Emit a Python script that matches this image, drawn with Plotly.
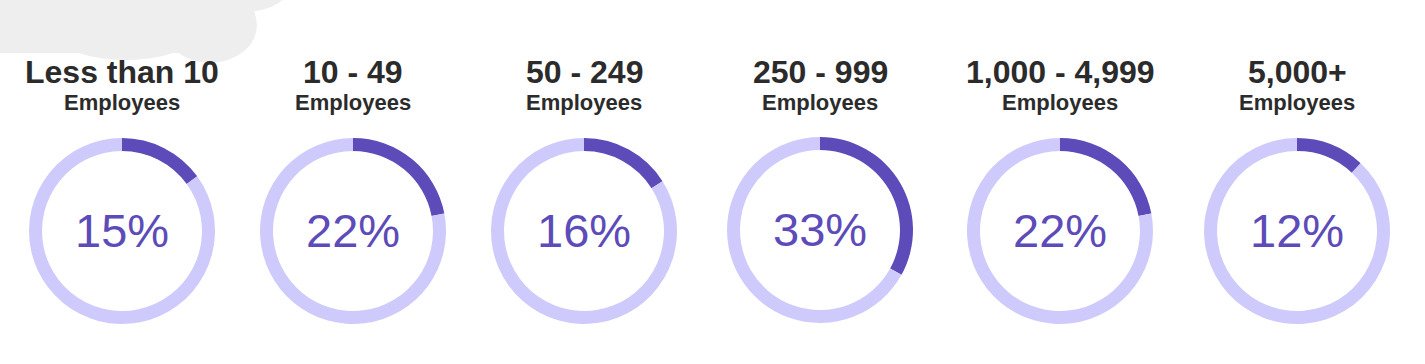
import plotly.graph_objects as go

# ---- data ----
categories = ["Less than 10", "10 - 49", "50 - 249", "250 - 999", "1,000 - 4,999", "5,000+"]
subtitle = "Employees"
percent_values = [15, 22, 16, 33, 22, 12]

# ---- layout constants ----
W, H = 1425, 364
centers_x = [122, 353, 584, 820, 1060, 1297]
centers_y = [231, 231, 231, 230, 231, 231]
R = 93
DARK = "#5c4bb8"
LIGHT = "#cecbfc"
TITLE_C = "#2b2b2b"
FONT = "Arial, Liberation Sans, sans-serif"

def px(x):
    return x / W

def py(y):
    return 1 - y / H

fig = go.Figure()
annotations = []
for cat, val, cx, cy in zip(categories, percent_values, centers_x, centers_y):
    fig.add_trace(go.Pie(
        values=[val, 100 - val],
        labels=[cat + " share", cat + " rest"],
        sort=False,
        direction="clockwise",
        rotation=0,
        hole=0.86,
        textinfo="none",
        hoverinfo="label+percent",
        marker=dict(colors=[DARK, LIGHT], line=dict(width=0)),
        domain=dict(x=[px(cx - R), px(cx + R)], y=[py(cy + R), py(cy - R)]),
        showlegend=False,
    ))
    annotations.append(dict(
        text=f"{val}%", x=px(cx), y=py(cy - 1), xref="paper", yref="paper",
        xanchor="center", yanchor="middle", showarrow=False,
        font=dict(family=FONT, size=47, color=DARK),
    ))
    annotations.append(dict(
        text=f"<b>{cat}</b>", x=px(cx), y=py(72), xref="paper", yref="paper",
        xanchor="center", yanchor="middle", showarrow=False,
        font=dict(family=FONT, size=32, color=TITLE_C),
    ))
    annotations.append(dict(
        text=f"<b>{subtitle}</b>", x=px(cx), y=py(102), xref="paper", yref="paper",
        xanchor="center", yanchor="middle", showarrow=False,
        font=dict(family=FONT, size=22, color=TITLE_C),
    ))

GRAY = "#eeeeee"
def ell(x0, y0, x1, y1):
    return dict(type="circle", xref="paper", yref="paper",
                x0=px(x0), x1=px(x1), y0=py(y1), y1=py(y0),
                fillcolor=GRAY, line=dict(width=0), layer="below")

shapes = [
    dict(type="rect", xref="paper", yref="paper", x0=0, x1=px(200), y0=py(53), y1=1,
         fillcolor=GRAY, line=dict(width=0), layer="below"),
    ell(163, -13, 257, 63),
    ell(197, -52, 293, 12),
    ell(62, 15, 190, 60),
    ell(150, -20, 240, 40),
]

fig.update_layout(
    width=W, height=H,
    margin=dict(l=0, r=0, t=0, b=0),
    paper_bgcolor="white", plot_bgcolor="white",
    annotations=annotations, shapes=shapes,
)
fig.write_html(
    "out.html",
    config={"displayModeBar": False},
    post_script="document.body.style.margin='0';document.body.style.overflow='hidden';",
)
